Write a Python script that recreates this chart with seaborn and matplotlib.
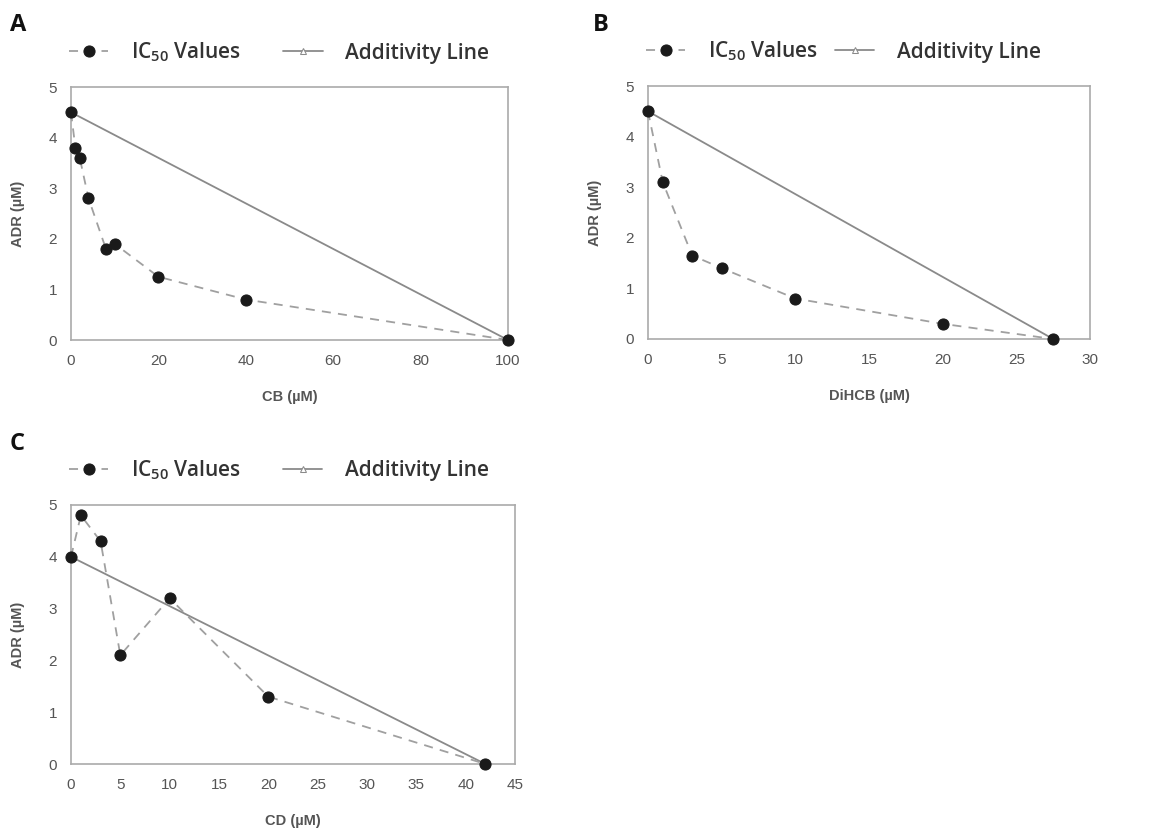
import numpy as np
import pandas as pd
import matplotlib.pyplot as plt
import seaborn as sns

# -------------------------------
# Data
# -------------------------------
cb_x = [0, 1, 2, 4, 8, 10, 20, 40, 100]
cb_adr = [4.5, 3.8, 3.6, 2.8, 1.8, 1.9, 1.25, 0.8, 0]
cb_add_x = [0, 100]
cb_add_y = [4.5, 0]

dihcb_x = [0, 1, 3, 5, 10, 20, 27.5]
dihcb_adr = [4.5, 3.1, 1.65, 1.4, 0.8, 0.3, 0]
dihcb_add_x = [0, 27.5]
dihcb_add_y = [4.5, 0]

cd_x = [0, 1, 3, 5, 10, 20, 42]
cd_adr = [4.0, 4.8, 4.3, 2.1, 3.2, 1.3, 0]
cd_add_x = [0, 42]
cd_add_y = [4.0, 0]

sns.set_style("white")
plt.rcParams["font.family"] = ["Liberation Sans", "DejaVu Sans"]
plt.rcParams["mathtext.fontset"] = "custom"
plt.rcParams["mathtext.rm"] = "Open Sans"
plt.rcParams["mathtext.bf"] = "Open Sans:bold"

W, H = 1149, 836
fig = plt.figure(figsize=(W / 100, H / 100), dpi=100)

def make_ax(left, top, right, bottom):
    return fig.add_axes([left / W, 1 - bottom / H, (right - left) / W, (bottom - top) / H])

def panel(ax, x, y, ax_x, ax_y, xmax, xstep, xlabel, colsp):
    sns.lineplot(x=x, y=y, ax=ax, color="#a0a0a0", lw=1.3, dashes=(5, 4),
                 marker="o", markersize=8, markerfacecolor="#1a1a1a",
                 markeredgecolor="#1a1a1a", label="IC$_{\\mathregular{50}}$ Values",
                 zorder=3, clip_on=False)
    sns.lineplot(x=ax_x, y=ax_y, ax=ax, color="#8a8a8a", lw=1.3,
                 marker="^", markersize=4, markerfacecolor="white",
                 markeredgecolor="#8a8a8a", label="Additivity Line", zorder=2)
    ax.set_xlim(0, xmax)
    ax.set_ylim(0, 5)
    ax.set_xticks(np.arange(0, xmax + 0.01, xstep))
    ax.set_yticks(range(0, 6))
    ax.tick_params(direction="in", length=4, color="#999999", labelsize=11,
                   labelcolor="#555555", pad=10)
    for s in ax.spines.values():
        s.set_color("#aaaaaa")
        s.set_linewidth(1.2)
    ax.set_xlabel(xlabel, fontsize=10.5, fontweight="bold", color="#555555", labelpad=16)
    ax.set_ylabel("ADR (µM)", fontsize=10.5, fontweight="bold", color="#555555", labelpad=17)
    ax.legend(loc="lower left", bbox_to_anchor=(-0.005, 1.09), ncol=2, frameon=False,
              handlelength=1.9, columnspacing=colsp, handletextpad=1.1,
              prop={"family": "Open Sans", "size": 15, "weight": "semibold"},
              labelcolor="#333333", borderaxespad=0, borderpad=0)

axA = make_ax(71, 87, 508, 340)
panel(axA, cb_x, cb_adr, cb_add_x, cb_add_y, 100, 20, "CB (µM)", 2.0)
axB = make_ax(648, 86, 1090, 339)
panel(axB, dihcb_x, dihcb_adr, dihcb_add_x, dihcb_add_y, 30, 5, "DiHCB (µM)", 0.8)
axC = make_ax(71, 505, 515, 764)
panel(axC, cd_x, cd_adr, cd_add_x, cd_add_y, 45, 5, "CD (µM)", 2.0)

for lab, px, py in [("A", 10, 25), ("B", 593, 25), ("C", 10, 444)]:
    fig.text(px / W, 1 - py / H, lab, fontsize=17, fontweight="bold", color="#111111",
             family="Open Sans", va="center")

plt.savefig("out.png", dpi=100)
